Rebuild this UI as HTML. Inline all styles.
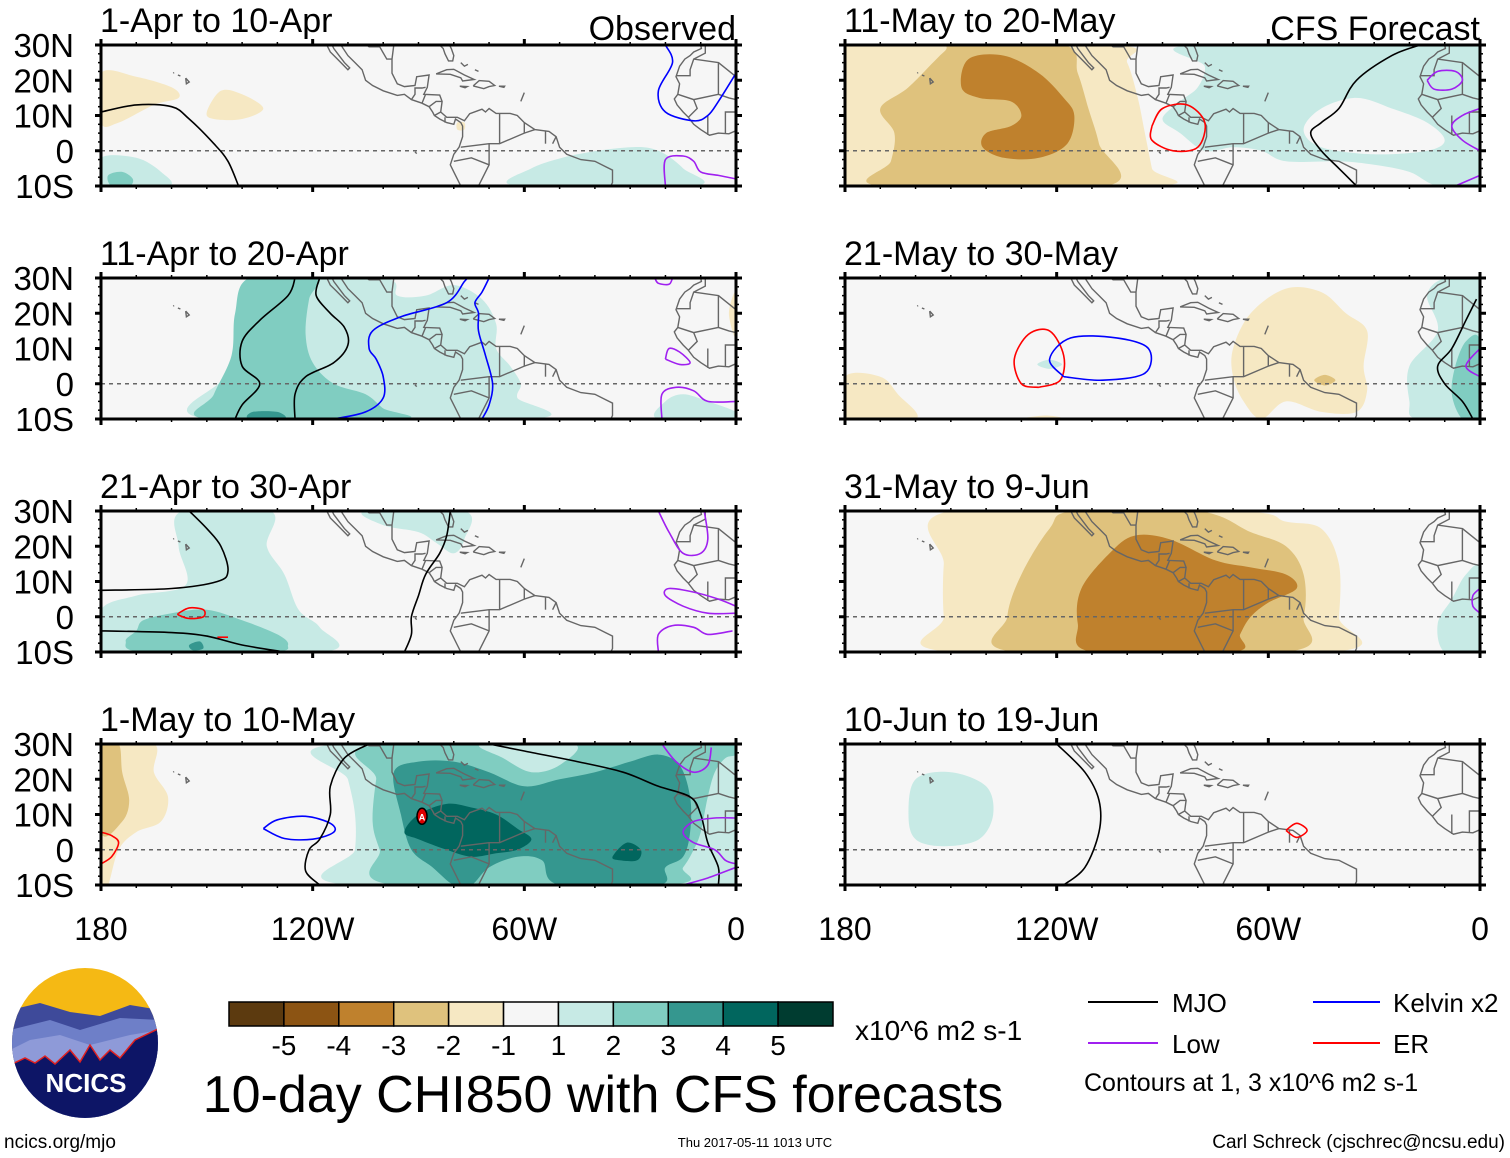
<!DOCTYPE html>
<html><head><meta charset="utf-8"><style>
body{margin:0;background:#fff;}
svg{display:block;font-family:"Liberation Sans",sans-serif;}
</style></head><body>
<svg id="s" width="1510" height="1158" viewBox="0 0 1510 1158" xmlns="http://www.w3.org/2000/svg">
<g id="maps"></g>
<g id="bottom">
  <g>
    <clipPath id="lc"><ellipse cx="85" cy="1043" rx="73" ry="75"/></clipPath>
    <g clip-path="url(#lc)">
      <rect x="10" y="966" width="150" height="160" fill="#f5b914"/>
      <path d="M10 1010 L40 1003 L70 1012 L100 1016 L130 1005 L160 1010 L160 1130 L10 1130Z" fill="#3e4a9a"/>
      <path d="M10 1030 L50 1020 L80 1030 L120 1018 L160 1020 L160 1130 L10 1130Z" fill="#6e7fc8"/>
      <path d="M10 1050 L30 1040 L60 1035 L90 1045 L130 1035 L160 1030 L160 1130 L10 1130Z" fill="#8e9ad8"/>
      <path d="M10 1065 L25 1058 L35 1063 L45 1056 L55 1064 L70 1050 L80 1062 L90 1045 L100 1060 L110 1050 L120 1058 L135 1040 L160 1028 L160 1130 L10 1130Z" fill="#0d1566" stroke="#e02020" stroke-width="1.5"/>
    </g>
    <text x="86" y="1092" font-size="26" font-weight="bold" fill="#fff" text-anchor="middle">NCICS</text>
  </g>
  <text x="4" y="1148" font-size="19">ncics.org/mjo</text>
  <text x="755" y="1147" font-size="13" text-anchor="middle">Thu 2017-05-11 1013 UTC</text>
  <text x="1505" y="1148" font-size="19" text-anchor="end">Carl Schreck (cjschrec@ncsu.edu)</text>
  <text x="603" y="1112" font-size="52" text-anchor="middle">10-day CHI850 with CFS forecasts</text>
  <g id="cbar"></g>
  <text x="855" y="1040" font-size="28">x10^6 m2 s-1</text>
  <g>
    <line x1="1088" y1="1002" x2="1158" y2="1002" stroke="#000" stroke-width="2"/>
    <text x="1172" y="1012" font-size="26">MJO</text>
    <line x1="1313" y1="1002" x2="1380" y2="1002" stroke="#0000ff" stroke-width="2"/>
    <text x="1393" y="1012" font-size="26">Kelvin x2</text>
    <line x1="1088" y1="1043" x2="1158" y2="1043" stroke="#a020f0" stroke-width="2"/>
    <text x="1172" y="1053" font-size="26">Low</text>
    <line x1="1313" y1="1043" x2="1380" y2="1043" stroke="#ff0000" stroke-width="2"/>
    <text x="1393" y="1053" font-size="26">ER</text>
    <text x="1084" y="1091" font-size="25">Contours at 1, 3 x10^6 m2 s-1</text>
  </g>
</g>
</svg>
<script>
const NS="http://www.w3.org/2000/svg";
const levelColors=["#5c3a0f","#8c5413","#bf812d","#dfc27d","#f6e8c3","#f6f6f6","#c7eae5","#80cdc1","#35978f","#01665e","#003c30"];
const cbarLabels=["-5","-4","-3","-2","-1","1","2","3","4","5"];
const latTicks=[30,20,10,0,-10];
const latLabels=["30N","20N","10N","0","10S"];
const lonTicks=[-180,-120,-60,0];
const lonLabels=["180","120W","60W","0"];
const panelTitles=["1-Apr to 10-Apr","11-Apr to 20-Apr","21-Apr to 30-Apr","1-May to 10-May","11-May to 20-May","21-May to 30-May","31-May to 9-Jun","10-Jun to 19-Jun"];
const fillsP1=[
 {c:4,p:[[-180,22],[-170,21],[-160,18],[-158,15],[-165,13],[-175,8],[-180,8]]},
 {c:4,p:[[-150,11],[-146,17],[-140,16],[-134,12],[-140,9],[-148,9]]},
 {c:4,p:[[-79,8],[-77,8],[-77,6],[-79,6]]},
 {c:6,p:[[-180,-2],[-170,-2],[-163,-6],[-161,-10],[-180,-10]]},
 {c:7,p:[[-178,-7],[-174,-6],[-171,-8],[-172,-10],[-177,-10]]},
 {c:6,p:[[-62,-10],[-58,-5],[-45,-1],[-30,1],[-22,0],[-15,-5],[-12,-10]]}];
const linesP1=[
 {k:"mjo",p:[[-180,11],[-170,13],[-160,12.5],[-155,9],[-148,2],[-144,-3],[-141,-10]]},
 {k:"kel",p:[[-20,30],[-18,25],[-22,17],[-20,11],[-12,8.5],[-8,10],[-5,14],[0,22]]},
 {k:"low",p:[[-20,-10],[-20,-2.5],[-15,-1.5],[-12,-3],[-10,-6],[-5,-7],[0,-8]]}];
const fillsP2=[
 {c:6,p:[[-150,-10],[-145,2],[-140,15],[-136,30],[-100,30],[-96,25],[-88,25],[-80,28],[-72,24],[-68,17],[-68,10],[-64,5],[-61,0],[-62,-4],[-58,-10]]},
 {c:6,p:[[-22,-10],[-20,-5],[-15,-3],[-8,-5],[0,-8],[0,-10]]},
 {c:7,p:[[-150,-10],[-148,-3],[-143,8],[-142,20],[-138,30],[-119,30],[-121,24],[-122,14],[-120,6],[-114,0],[-105,-3],[-100,-7],[-95,-10]]},
 {c:8,p:[[-138,-10],[-137,-8],[-130,-8],[-128,-10]]},
 {c:4,p:[[0,26],[-2,20],[0,13]]}];
const linesP2=[
 {k:"mjo",p:[[-125,30],[-127,25],[-135,18],[-140,12],[-140,5],[-135,0],[-140,-6],[-142,-10]]},
 {k:"mjo",p:[[-118,30],[-119,25],[-115,20],[-111,16],[-110,11],[-114,6],[-122,2],[-125,-3],[-125,-10]]},
 {k:"kel",p:[[-114,-10],[-105,-8],[-100,-4],[-100,2],[-102,7],[-104,10],[-103,15],[-95,19],[-82,23],[-77,29],[-76,30]]},
 {k:"kel",p:[[-70,30],[-72,26],[-74,23],[-73,20],[-73,15],[-71,8],[-69,0],[-70,-6],[-72,-10]]},
 {k:"low",p:[[-23,30],[-22,28.5],[-19,28.2],[-18,30]]},
 {k:"low",p:[[-20,7],[-19,10],[-16,9],[-13,6],[-16,5.5],[-20,7]]},
 {k:"low",p:[[-21,-10],[-21,-3],[-17,-1],[-12,-2],[-8,-5],[0,-5]]}];
const fillsP3=[
 {c:6,p:[[-180,-10],[-180,2],[-170,6],[-156,9],[-158,20],[-157,30],[-132,30],[-133,20],[-128,12],[-124,2],[-118,-3],[-117,-10]]},
 {c:6,p:[[-105,30],[-100,26],[-90,24],[-85,21],[-80,18],[-77,22],[-77,30]]},
 {c:7,p:[[-173,-7],[-170,-4],[-168,-1],[-160,1],[-150,2],[-140,-1],[-130,-5],[-127,-8],[-132,-10],[-168,-10]]},
 {c:8,p:[[-155,-8],[-152,-7],[-151,-9],[-154,-9.5]]}];
const linesP3=[
 {k:"er",p:[[-158,1],[-155,2.5],[-151,2],[-151,0],[-155,-0.5],[-158,0.5],[-158,1]]},
 {k:"er",p:[[-147,-5.8],[-144,-5.8]]},
 {k:"mjo",p:[[-155,30],[-150,25],[-146,20],[-144,13],[-147,10],[-160,8],[-180,7.5]]},
 {k:"mjo",p:[[-180,-4],[-160,-4.5],[-150,-5.5],[-140,-8],[-128,-10]]},
 {k:"mjo",p:[[-94,-10],[-92,-5],[-92,0],[-90,6],[-88,12],[-84,18],[-82,23],[-81,30]]},
 {k:"low",p:[[-22,30],[-19,24],[-15,18],[-10,18],[-8,22],[-9,30]]},
 {k:"low",p:[[0,3],[-5,5],[-12,7],[-19,8],[-20,6],[-15,3],[-8,1],[0,1]]},
 {k:"low",p:[[-22,-10],[-22,-5],[-18,-2.5],[-12,-3],[-8,-5],[-1,-4]]}];
const fillsP4=[
 {c:4,p:[[-180,30],[-165,30],[-165,22],[-161,15],[-163,8],[-170,5],[-175,0],[-178,-10],[-180,-10]]},
 {c:3,p:[[-180,30],[-175,30],[-174,22],[-172,14],[-174,8],[-180,5]]},
 {c:6,p:[[-113,30],[0,30],[0,-10],[-110,-10],[-108,0],[-108,10],[-110,20]]},
 {c:7,p:[[-100,30],[-102,20],[-103,8],[-101,0],[-97,-10],[-20,-10],[-15,-5],[-12,0],[-10,5],[-8,15],[-6,22],[-3,26],[0,27],[0,30]]},
 {c:6,p:[[-72,30],[-66,26],[-58,22],[-50,24],[-46,30]]},
 {c:8,p:[[-97,22],[-95,10],[-92,0],[-86,-5],[-80,-10],[-75,-10],[-70,-5],[-62,-2],[-55,-3],[-50,-10],[-22,-10],[-20,-5],[-15,-2],[-13,5],[-13,15],[-16,24],[-22,27],[-30,25],[-40,22],[-50,20],[-60,18],[-70,22],[-80,25],[-90,25]]},
 {c:9,p:[[-94,5],[-90,10],[-82,13],[-75,12],[-68,10],[-62,6],[-58,3],[-62,0],[-68,-1],[-75,-2],[-82,0],[-90,3]]},
 {c:9,p:[[-35,-2],[-31,2],[-27,0],[-28,-3],[-33,-3]]}];
const linesP4=[
 {k:"er",p:[[-180,5],[-177,4],[-175,2],[-177,-2],[-180,-4]]},
 {k:"kel",p:[[-134,6],[-130,8.5],[-122,9.5],[-115,7.5],[-114,5],[-120,3],[-128,3.2],[-134,6]]},
 {k:"mjo",p:[[-118,-10],[-122,-6],[-121,0],[-118,3],[-115,10],[-115,18],[-111,26],[-104,30]]},
 {k:"mjo",p:[[-70,30],[-60,28],[-45,25],[-32,22],[-22,18],[-13,15],[-10,10],[-8,2],[-5,-5],[-5,-10]]},
 {k:"low",p:[[-21,30],[-17,25],[-12,22],[-8,24],[-7,29]]},
 {k:"low",p:[[0,9],[-6,9],[-12,8],[-15,5],[-12,2],[-6,0],[-3,-3],[0,-4]]},
 {k:"low",p:[[-15,-10],[-8,-8],[0,-5]]}];
const fillsP5=[
 {c:4,p:[[-180,30],[-104,30],[-100,25],[-97,15],[-95,5],[-93,-5],[-92,-10],[-180,-10]]},
 {c:3,p:[[-170,-10],[-167,-3],[-166,5],[-170,12],[-162,18],[-152,28],[-148,30],[-118,30],[-114,22],[-111,12],[-108,2],[-106,-10]]},
 {c:2,p:[[-145,26],[-135,27],[-125,22],[-118,15],[-115,10],[-117,2],[-125,-2],[-135,-2],[-141,1],[-140,5],[-133,7],[-130,10],[-133,14],[-142,15],[-147,18]]},
 {c:6,p:[[-82,30],[0,30],[0,-10],[-12,-10],[-20,-6],[-30,-4],[-40,-3],[-55,-3],[-62,0],[-70,1],[-78,0],[-85,5],[-90,9],[-85,14],[-80,18],[-78,24]]},
 {c:5,p:[[-50,6],[-45,12],[-35,15],[-25,12],[-15,8],[-10,3],[-15,0],[-30,-1],[-45,1]]}];
const linesP5=[
 {k:"er",p:[[-93,7],[-90,12],[-83,13],[-78,8],[-80,1],[-87,0],[-93,3],[-93,7]]},
 {k:"mjo",p:[[-35,-10],[-40,-5],[-45,0],[-48,5],[-45,8],[-40,12],[-35,20],[-25,27],[-17,30]]},
 {k:"low",p:[[-15,20],[-12,22.5],[-7,22.5],[-5,20],[-8,17.5],[-13,17.5],[-15,20]]},
 {k:"low",p:[[0,12],[-5,10],[-8,7],[-5,3],[0,0]]},
 {k:"low",p:[[-7,-10],[0,-7]]}];
const fillsP6=[
 {c:4,p:[[-180,-10],[-180,2],[-170,2],[-165,-3],[-160,-10]]},
 {c:4,p:[[-70,10],[-65,20],[-55,27],[-45,26],[-38,20],[-32,15],[-33,5],[-32,-2],[-35,-8],[-45,-8],[-55,-5],[-62,-10],[-67,-5],[-70,2]]},
 {c:4,p:[[-130,-10],[-123,-9],[-118,-10]]},
 {c:3,p:[[-47,1],[-44,2.5],[-41,1],[-44,-0.5]]},
 {c:6,p:[[-125.5,5.5],[-122,6.8],[-118.5,5.5],[-122,4.2]]},
 {c:6,p:[[-18,-10],[-20,-5],[-20,5],[-12,15],[-15,25],[-10,30],[0,30],[0,-10]]},
 {c:7,p:[[-5,-10],[-8,-3],[-7,5],[-4,12],[0,12],[0,-10]]}];
const linesP6=[
 {k:"er",p:[[-125,-1],[-130,0],[-132,7],[-128,14],[-122,15],[-118,8],[-119,1],[-125,-1]]},
 {k:"kel",p:[[-118,2],[-122,7],[-116,13],[-103,13],[-94,10],[-95,3],[-107,1],[-118,2]]},
 {k:"mjo",p:[[-2,-10],[-5,-5],[-10,0],[-12,5],[-8,10],[-4,18],[-1,24]]},
 {k:"low",p:[[0,10],[-4,5],[0,2]]}];
const fillsP7=[
 {c:4,p:[[-150,-10],[-152,0],[-152,15],[-150,30],[-70,30],[-55,27],[-45,25],[-40,15],[-40,0],[-42,-10]]},
 {c:3,p:[[-132,-10],[-134,0],[-130,12],[-122,25],[-115,30],[-80,30],[-65,24],[-55,20],[-50,12],[-50,0],[-55,-10]]},
 {c:2,p:[[-110,-10],[-114,-2],[-113,8],[-105,18],[-98,23],[-88,22],[-75,16],[-65,14],[-55,12],[-52,8],[-60,4],[-65,0],[-68,-5],[-70,-10]]},
 {c:6,p:[[-10,-10],[-12,-2],[-8,5],[-4,12],[0,13],[0,-10]]}];
const linesP7=[{k:"low",p:[[0,8],[-2,6],[-2,3],[0,1]]}];
const fillsP8=[
 {c:6,p:[[-160,20],[-150,22],[-140,18],[-138,10],[-142,3],[-152,1],[-160,3],[-162,10]]}];
const linesP8=[
 {k:"mjo",p:[[-120,30],[-112,22],[-108,14],[-108,5],[-112,-5],[-118,-10]]},
 {k:"er",p:[[-55,5.5],[-52,7.5],[-49,5.5],[-52,3.5],[-55,5.5]]}];
const allFills=[fillsP1,fillsP2,fillsP3,fillsP4,fillsP5,fillsP6,fillsP7,fillsP8];
const allLines=[linesP1,linesP2,linesP3,linesP4,linesP5,linesP6,linesP7,linesP8];
const lineColors={mjo:"#000",kel:"#0000ff",low:"#a020f0",er:"#ff0000"};
const coasts=[
 [[-116,30],[-115,28],[-113.5,26.5],[-112,25],[-110,23],[-109.5,23.5],[-111,25],[-112.5,27],[-114,29],[-114.5,30]],
 [[-112,30],[-110,27],[-108,25],[-106,23],[-105,20],[-103,18.5],[-100,17],[-96,15.7],[-94,16],[-92,14.5],[-89,13.5],[-87,12.5],[-86,11],[-85.5,10],[-84,9],[-82,8],[-80,7.5],[-79.5,9],[-78,8],[-77.5,7],[-77.5,4],[-78.5,1],[-80,-1],[-81,-4],[-80,-6],[-79,-8],[-78,-10]],
 [[-97,30],[-97.5,26],[-97.5,22],[-96,19],[-94,18.2],[-91,18.5],[-90.5,21],[-87,21.5],[-87.5,18],[-88.5,16],[-84,15.8],[-83.3,14],[-83.7,11],[-82,9.5],[-79,9.5],[-77,8.5],[-75.5,10.5],[-72,11.8],[-71,11],[-70,12],[-68,10.6],[-64,10.6],[-62,10],[-60,8],[-57,6],[-53,5.5],[-51,4],[-50,1],[-48,-1],[-44,-2.5],[-40,-3],[-37,-4.5],[-35,-5.5],[-35,-9],[-35.5,-10]],
 [[-84,30],[-83,29],[-82.5,27.5],[-81.5,25.5],[-80.3,25.5],[-80,27],[-80.7,29],[-81.2,30]],
 [[-85,21.8],[-82,23],[-80,23.1],[-77,21.5],[-74.2,20.2],[-77.5,19.8],[-78,20.7],[-81,21.7],[-85,21.8]],
 [[-74.5,18.4],[-72.8,19.9],[-70,19.7],[-68.4,18.5],[-70,18.2],[-71.5,17.6],[-74.5,18.4]],
 [[-78.3,18.3],[-76.2,18.2],[-76.8,17.9],[-78.3,18.3]],
 [[-67.2,18.3],[-65.6,18.3],[-65.8,18],[-67.2,18.3]],
 [[-78,25],[-77,24],[-76,24.5]],[[-74,23],[-73,22.5]],
 [[-156,20.6],[-155,19.5],[-155.8,19],[-156,20.6]],[[-157.5,21.2],[-158.2,21.5]],[[-159.5,22],[-159.3,22.2]],
 [[-91,-0.3],[-90.5,-0.8]],[[-60,16.5],[-61,14]],
 [[-10,30],[-9.8,29],[-12,28],[-13,27],[-14.5,26],[-16,24],[-17,21],[-16,19],[-16.5,16],[-17.5,14.7],[-16.7,13],[-15,11],[-13.5,9.5],[-12,7.5],[-10,6],[-7.5,4.4],[-5,5],[-2,4.8],[0,5.7]],
 [[-17,21.3],[-13,21.3],[-13,23],[-12,26],[-8.7,27.7],[-8.7,30]],
 [[-12,26],[-5,25],[-5,16],[-12,14.5],[-16.5,16]],[[-5,25],[0,21]],[[-5,16],[-2,15],[0,14.5]],
 [[-12,14.5],[-11,12],[-13.5,9.5]],[[-8,10],[-8,4.5]],[[-3,5],[-3,11],[0,11]],
 [[-78,1],[-70,2],[-67,2],[-60,5],[-57,6]],[[-70,2],[-70,-4],[-73,-10]],[[-80,-3],[-75,-2],[-70,-4]],
 [[-67,2],[-67,10.6]],[[-60,5],[-60,8]],[[-54,2],[-54,5.5]],[[-52,2],[-51,4]],
 [[-89,13.5],[-88,16]],[[-87,12.5],[-85,14],[-83.3,14]],[[-85.5,10],[-83.7,11]],[[-82.5,8],[-82.5,9.5]],
 [[-117,32],[-111,31],[-106,31],[-104,29.5],[-101,29.5],[-99,26],[-97.5,26]],[[-92,14.5],[-91,16],[-91,17.8],[-89,17.8],[-88,18]]];
function mk(tag,attrs,parent){const e=document.createElementNS(NS,tag);for(const k in attrs)e.setAttribute(k,attrs[k]);parent.appendChild(e);return e;}
function smooth(pts,closed){
  if(pts.length<3){return "M"+pts.map(p=>p[0].toFixed(1)+" "+p[1].toFixed(1)).join(" L")+(closed?"Z":"");}
  const n=pts.length;let d="M"+pts[0][0].toFixed(1)+" "+pts[0][1].toFixed(1);
  const g=i=>closed?pts[(i+n)%n]:pts[Math.max(0,Math.min(n-1,i))];
  const m=closed?n:n-1;
  for(let i=0;i<m;i++){const p0=g(i-1),p1=g(i),p2=g(i+1),p3=g(i+2);
    const c1=[p1[0]+(p2[0]-p0[0])/6,p1[1]+(p2[1]-p0[1])/6],c2=[p2[0]-(p3[0]-p1[0])/6,p2[1]-(p3[1]-p1[1])/6];
    d+=" C"+c1[0].toFixed(1)+" "+c1[1].toFixed(1)+" "+c2[0].toFixed(1)+" "+c2[1].toFixed(1)+" "+p2[0].toFixed(1)+" "+p2[1].toFixed(1);}
  return d+(closed?"Z":"");}
const maps=document.getElementById("maps");
const PW=635,PH=141,tops=[45,278,511,744],lefts=[101,845];
for(let i=0;i<8;i++){
  const x0=lefts[i<4?0:1],y0=tops[i%4];
  const X=lon=>x0+(lon+180)/180*PW, Y=lat=>y0+(30-lat)/40*PH;
  const g=mk("g",{},maps);
  
  
  const cp=mk("clipPath",{id:"c"+i},g);
  mk("rect",{x:x0,y:y0,width:PW,height:PH},cp);
  const inner=mk("g",{"clip-path":"url(#c"+i+")"},g);
  mk("rect",{x:x0,y:y0,width:PW,height:PH,fill:levelColors[5]},inner);
  allFills[i].forEach(f=>{const el=mk("path",{d:smooth(f.p.map(p=>[X(p[0]),Y(p[1])]),true),fill:levelColors[f.c]},inner);
    
    });
  coasts.forEach(c=>{mk("path",{d:"M"+c.map(p=>X(p[0]).toFixed(1)+" "+Y(p[1]).toFixed(1)).join(" L"),fill:"none",stroke:"#666","stroke-width":1.4},inner);});
  mk("line",{x1:x0,x2:x0+PW,y1:Y(0),y2:Y(0),stroke:"#666","stroke-width":1.5,"stroke-dasharray":"4 4"},inner);
  allLines[i].forEach(l=>{const el=mk("path",{d:smooth(l.p.map(p=>[X(p[0]),Y(p[1])]),false),fill:"none",stroke:lineColors[l.k],"stroke-width":1.6},inner);
    
    });
  if(i===3){mk("ellipse",{cx:X(-89),cy:Y(9.5),rx:5,ry:8,fill:"#d00",stroke:"#000","stroke-width":1.5},inner);
    mk("text",{x:X(-89),y:Y(9.5)+4,"font-size":9,fill:"#fff","text-anchor":"middle","font-weight":"bold"},inner).textContent="A";}
  mk("rect",{x:x0,y:y0,width:PW,height:PH,fill:"none",stroke:"#000","stroke-width":3},g);
  for(let lon=-180;lon<=0;lon+=10){const maj=lon%60===0;
    [y0,y0+PH].forEach((yy,j)=>mk("line",{x1:X(lon),x2:X(lon),y1:yy-(j?0:(maj?6:3)),y2:yy+(j?(maj?6:3):0),stroke:"#000","stroke-width":maj?3:1.5},g));}
  for(let lat=-10;lat<=30;lat+=2.5){const maj=lat%10===0;
    [x0,x0+PW].forEach((xx,j)=>mk("line",{x1:xx-(j?0:(maj?6:3)),x2:xx+(j?(maj?6:3):0),y1:Y(lat),y2:Y(lat),stroke:"#000","stroke-width":maj?3:1.5},g));}
  if(i<4){latTicks.forEach((lt,k)=>{const t=mk("text",{x:x0-27,y:Y(lt)+12,"font-size":33,"text-anchor":"end"},g);t.textContent=latLabels[k];
    
    });}
  const tt=mk("text",{x:x0-1,y:y0-13,"font-size":34},g);tt.textContent=panelTitles[i];
  
  
  if(i%4===0){const t=mk("text",{x:x0+PW,y:y0-5,"font-size":34,"text-anchor":"end"},g);t.textContent=i===0?"Observed":"CFS Forecast";
    
    }
  if(i%4===3){lonTicks.forEach((ln,k)=>{const t=mk("text",{x:X(ln),y:940,"font-size":32,"text-anchor":"middle"},g);t.textContent=lonLabels[k];
    
    });}
}
const cb=document.getElementById("cbar");const bw=(833-229)/11;
levelColors.forEach((c,k)=>{const r=mk("rect",{x:229+k*bw,y:1002,width:bw,height:24,fill:c,stroke:"#000","stroke-width":1.5},cb);
  
  });
cbarLabels.forEach((l,k)=>{const t=mk("text",{x:229+(k+1)*bw,y:1055,"font-size":28,"text-anchor":"middle"},cb);t.textContent=l;
  
  });
</script>
</body></html>
